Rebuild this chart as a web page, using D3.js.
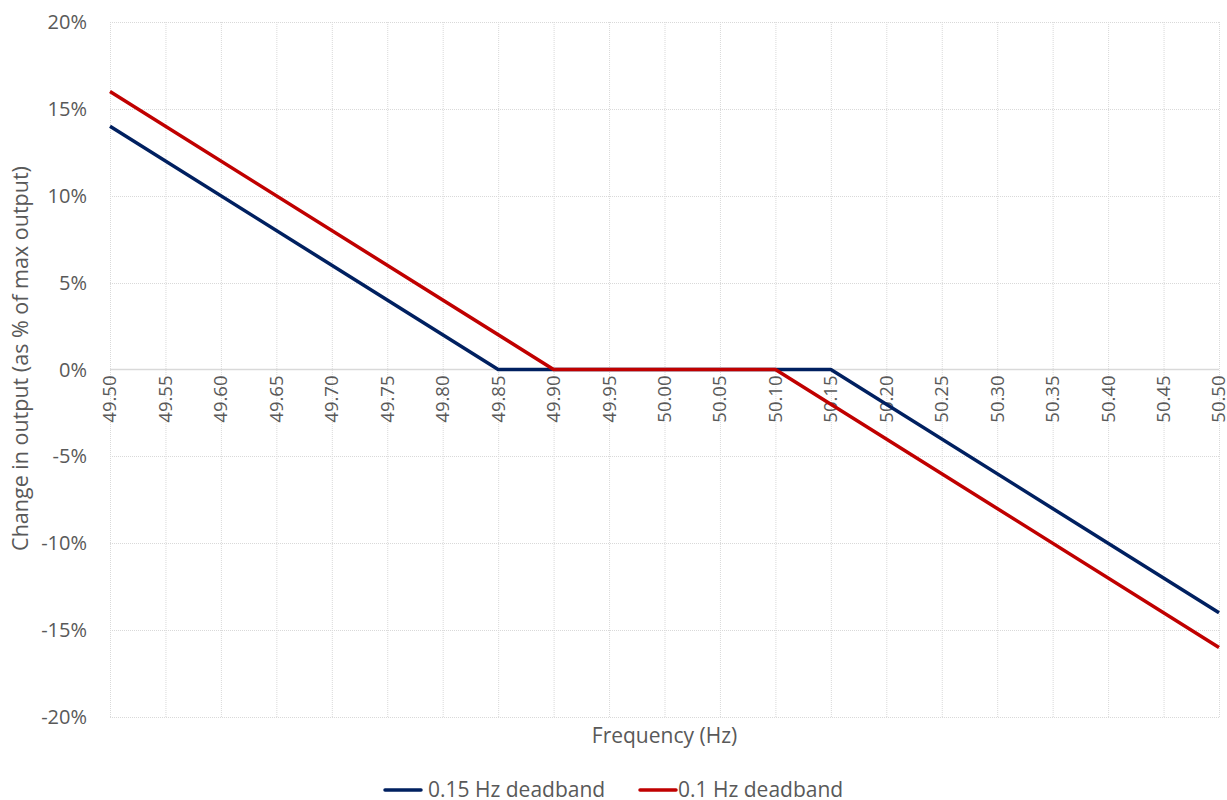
<!DOCTYPE html>
<html>
<head>
<meta charset="utf-8">
<script src="https://cdn.jsdelivr.net/npm/d3@7"></script>
<style>
  html, body { margin: 0; padding: 0; background: #fff; }
  svg text { font-family: "Open Sans", Lato, sans-serif; fill: #595959; }
</style>
</head>
<body>
<svg id="chart" width="1227" height="800"></svg>
<script>
// Frequency response curves (change in output, % of max output)
const freqTicks = ["49.50","49.55","49.60","49.65","49.70","49.75","49.80","49.85","49.90","49.95",
                   "50.00","50.05","50.10","50.15","50.20","50.25","50.30","50.35","50.40","50.45","50.50"];
const pctTicks = [-20, -15, -10, -5, 0, 5, 10, 15, 20];

const wideBandFreq = [49.50, 49.85, 50.15, 50.50];
const wideBandPct  = [14, 0, 0, -14];
const narrowBandFreq = [49.50, 49.90, 50.10, 50.50];
const narrowBandPct  = [16, 0, 0, -16];

const seriesNames = ["0.15 Hz deadband", "0.1 Hz deadband"];
const seriesColors = ["#002060", "#C00000"];

const series = [
  { name: seriesNames[0], color: seriesColors[0], pts: wideBandFreq.map((f, i) => [f, wideBandPct[i]]) },
  { name: seriesNames[1], color: seriesColors[1], pts: narrowBandFreq.map((f, i) => [f, narrowBandPct[i]]) }
];

const svg = d3.select("#chart");
const m = { left: 110, right: 1219, top: 22, bottom: 717 };

const x = d3.scaleLinear().domain([49.5, 50.5]).range([m.left, m.right]);
const y = d3.scaleLinear().domain([-20, 20]).range([m.bottom, m.top]);

// grid
const grid = svg.append("g");
grid.selectAll("line.v").data(freqTicks).join("line")
  .attr("x1", d => x(+d) + 0.5).attr("x2", d => x(+d) + 0.5)
  .attr("y1", m.top).attr("y2", m.bottom)
  .attr("stroke", "#d9d9d9").attr("stroke-width", 1).attr("stroke-dasharray", "1,1");
grid.selectAll("line.h").data(pctTicks.filter(d => d !== 0)).join("line")
  .attr("x1", m.left).attr("x2", m.right)
  .attr("y1", d => Math.round(y(d)) + 0.5).attr("y2", d => Math.round(y(d)) + 0.5)
  .attr("stroke", "#d9d9d9").attr("stroke-width", 1).attr("stroke-dasharray", "1,1");

// zero axis line
svg.append("line")
  .attr("x1", m.left).attr("x2", m.right)
  .attr("y1", y(0)).attr("y2", y(0))
  .attr("stroke", "#d9d9d9").attr("stroke-width", 1.5);

// y tick labels
svg.append("g").selectAll("text").data(pctTicks).join("text")
  .attr("x", 87).attr("y", d => y(d))
  .attr("dy", "0.35em")
  .attr("text-anchor", "end")
  .style("font-size", "20px")
  .text(d => d + "%");

// x tick labels, rotated, hanging below the zero line
svg.append("g").selectAll("text").data(freqTicks).join("text")
  .attr("transform", d => `translate(${x(+d)},${y(0) + 6}) rotate(-90)`)
  .attr("text-anchor", "end")
  .attr("dy", "0.35em")
  .style("font-size", "18.5px")
  .text(d => d);

// axis titles
svg.append("text")
  .attr("x", (m.left + m.right) / 2).attr("y", 743)
  .attr("text-anchor", "middle")
  .style("font-size", "21px")
  .text("Frequency (Hz)");
svg.append("text")
  .attr("transform", `translate(28,${(m.top + m.bottom) / 2 - 11}) rotate(-90)`)
  .attr("text-anchor", "middle")
  .style("font-size", "21.5px")
  .text("Change in output (as % of max output)");

// lines
const line = d3.line().x(d => x(d[0])).y(d => y(d[1]));
svg.append("g").selectAll("path").data(series).join("path")
  .attr("d", d => line(d.pts))
  .attr("fill", "none")
  .attr("stroke", d => d.color)
  .attr("stroke-width", 3.5)
  .attr("stroke-linejoin", "round");

// legend
const legendX = [385, 640];
const legendTextX = [43, 38];
const lg = svg.append("g").selectAll("g").data(series).join("g")
  .attr("transform", (d, i) => `translate(${legendX[i]},790)`);
lg.append("line").attr("x1", 0).attr("x2", 36).attr("y1", 0).attr("y2", 0)
  .attr("stroke", d => d.color).attr("stroke-width", 3.5).attr("stroke-linecap", "round");
lg.append("text").attr("x", (d, i) => legendTextX[i]).attr("dy", "0.35em")
  .style("font-size", "21px")
  .text(d => d.name);
</script>
</body>
</html>
